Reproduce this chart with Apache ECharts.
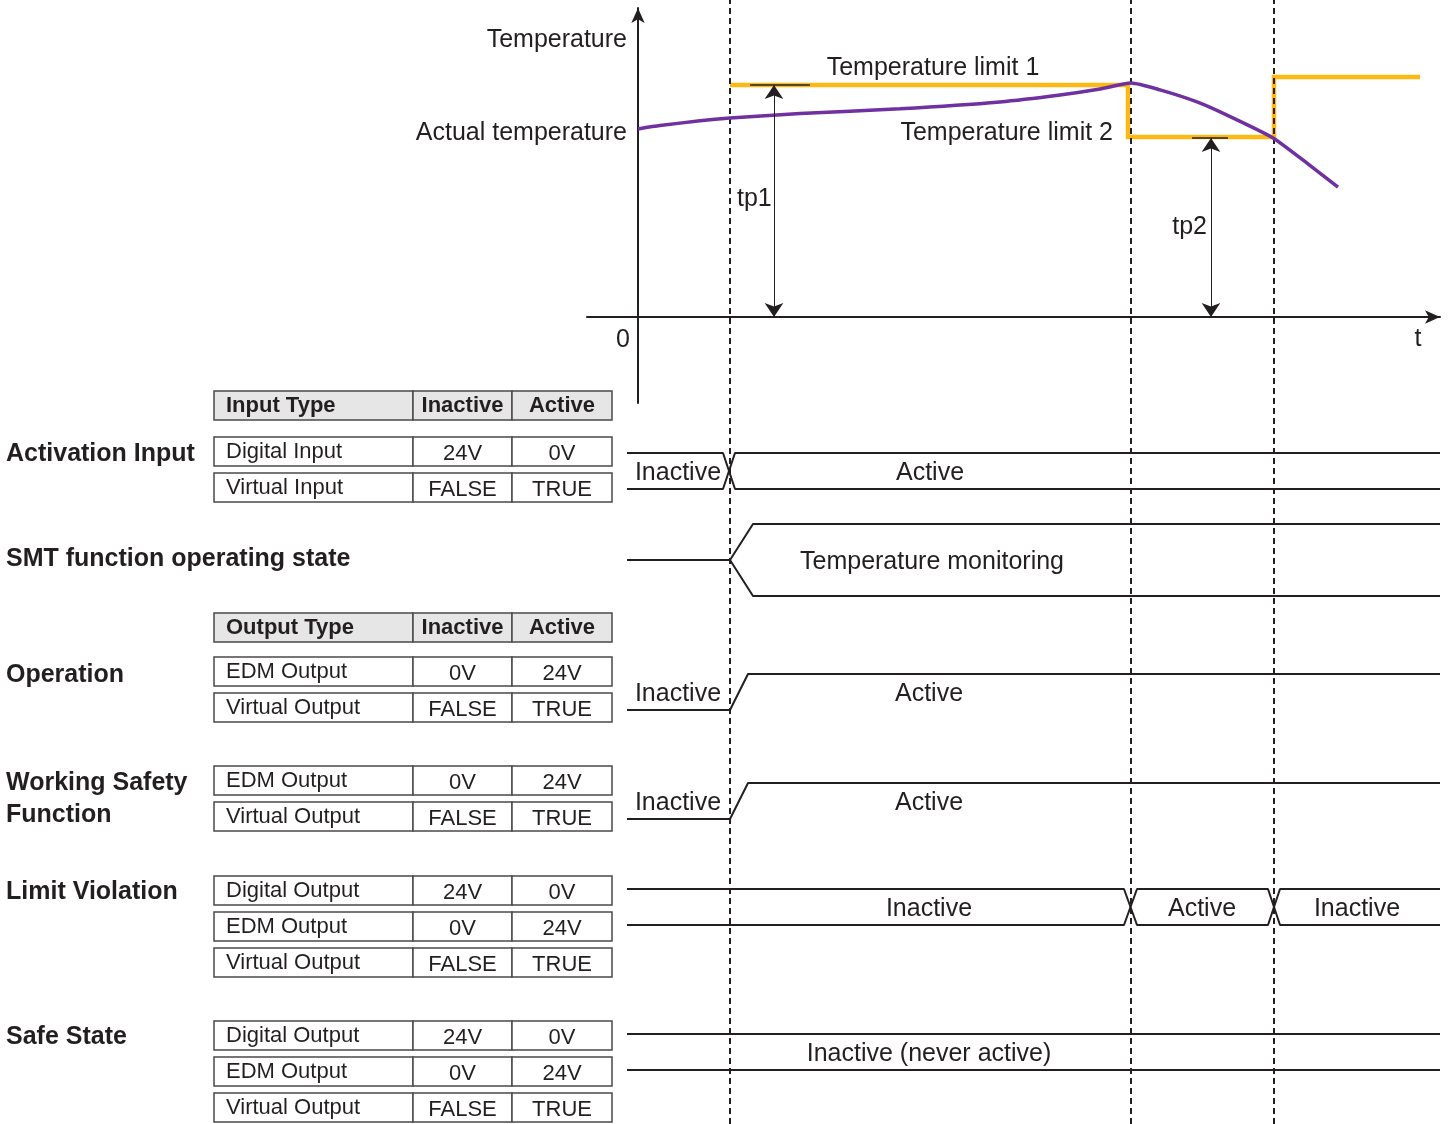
<!DOCTYPE html>
<html>
<head>
<meta charset="utf-8">
<script src="https://cdn.jsdelivr.net/npm/echarts@6/dist/echarts.min.js"></script>
<style>html,body{margin:0;padding:0;background:#fff}#c{width:1453px;height:1124px}</style>
</head>
<body>
<div id="c"></div>
<script>
// ---------- DATA ----------
const tStart = -1.1, tEnd = 80.2;            // time extent of signal lanes
const eventTimes = [9.2, 49.3, 63.6];        // dashed event lines
// temperature curve [t, temp]
const actualTemp = [[0,62.7],[2.2,63.8],[6.2,65.4],[9.2,66.3],[16.2,67.8],[26.2,69.4],[36.2,71.7],[42.2,74],[46.2,76],[49.3,78],[52.2,75.7],[55.9,71.7],[58.9,67.3],[63.5,59.7],[66.9,51.3],[70.0,43.3]];
// temperature limit step [t, temp]
const tempLimit = [[9.2,77.3],[49.0,77.3],[49.0,60],[63.6,60],[63.6,80],[78.2,80]];
const tp1 = {t:13.6, temp:77.3, tick:[11.2,17.2]};
const tp2 = {t:57.3, temp:59.7, tick:[55.4,59.0]};
// signal lanes [t, level]
const actInA = [[tStart,1],[8.5,1],[9.7,0],[tEnd,0]];
const actInB = [[tStart,0],[8.5,0],[9.7,1],[tEnd,1]];
const smtA = [[tStart,0.5],[9.2,0.5],[11.5,1],[tEnd,1]];
const smtB = [[9.2,0.5],[11.5,0],[tEnd,0]];
const opSig = [[tStart,0],[9.2,0],[11.0,1],[tEnd,1]];
const wsfSig = [[tStart,0],[9.2,0],[11.0,1],[tEnd,1]];
const lvA = [[tStart,1],[48.6,1],[49.9,0],[63.0,0],[64.2,1],[tEnd,1]];
const lvB = [[tStart,0],[48.6,0],[49.9,1],[63.0,1],[64.2,0],[tEnd,0]];
const ssA = [[tStart,1],[tEnd,1]];
const ssB = [[tStart,0],[tEnd,0]];
// state labels [t, text]
const actLabels = [[4.0,'Inactive'],[29.2,'Active']];
const smtLabels = [[29.4,'Temperature monitoring']];
const opLabels = [[4.0,'Inactive'],[29.1,'Active']];
const wsfLabels = [[4.0,'Inactive'],[29.1,'Active']];
const lvLabels = [[29.1,'Inactive'],[56.4,'Active'],[71.9,'Inactive']];
const ssLabels = [[29.1,'Inactive (never active)']];
// tables
const inputHeader = ['Input Type','Inactive','Active'];
const outputHeader = ['Output Type','Inactive','Active'];
const activationRows = [['Digital Input','24V','0V'],['Virtual Input','FALSE','TRUE']];
const operationRows = [['EDM Output','0V','24V'],['Virtual Output','FALSE','TRUE']];
const wsfRows = [['EDM Output','0V','24V'],['Virtual Output','FALSE','TRUE']];
const lvRows = [['Digital Output','24V','0V'],['EDM Output','0V','24V'],['Virtual Output','FALSE','TRUE']];
const ssRows = [['Digital Output','24V','0V'],['EDM Output','0V','24V'],['Virtual Output','FALSE','TRUE']];
const groupLabels = ['Activation Input','SMT function operating state','Operation','Working Safety\nFunction','Limit Violation','Safe State'];

// ---------- LAYOUT ----------
const FONT = '"Liberation Sans", Arial, Helvetica, sans-serif';
const TXT = '#231F20';
const PURPLE = '#7030A0';
const ORANGE = '#FDB913';
const GL = 587, GW = 853, XMIN = -5.1, XMAX = 80.2;
const lanes = [
  {top:453,h:36},{top:524,h:72},{top:674,h:36},{top:783,h:36},{top:889,h:36},{top:1034,h:36}
];

const grids = [
  {left:GL, width:GW, top:8, height:395},   // 0 temperature
  {left:GL, width:GW, top:0, height:1124}   // 1 dashed event lines
];
lanes.forEach(l => grids.push({left:GL, width:GW, top:l.top, height:l.h}));

const xAxes = grids.map((g,i) => ({
  type:'value', gridIndex:i, min:XMIN, max:XMAX, show: i===0,
  axisLine:{show:true, onZero:true, symbol:['none','arrow'], symbolSize:[10,15], lineStyle:{color:TXT, width:2}},
  axisTick:{show:false}, axisLabel:{show:false}, splitLine:{show:false}
}));
const yAxes = grids.map((g,i) => i===0 ? ({
  type:'value', gridIndex:0, min:-28.667, max:103, show:true,
  axisLine:{show:true, onZero:true, symbol:['none','arrow'], symbolSize:[10,15], lineStyle:{color:TXT, width:2}},
  axisTick:{show:false}, axisLabel:{show:false}, splitLine:{show:false}
}) : ({type:'value', gridIndex:i, min:0, max:1, show:false}));

const series = [];
function sig(data, gi, w) {
  series.push({type:'line', xAxisIndex:gi, yAxisIndex:gi, data, symbol:'none', silent:true,
    lineStyle:{color:TXT, width:w||2}, z:3});
}
function labels(arr, gi) {
  series.push({type:'scatter', xAxisIndex:gi, yAxisIndex:gi, symbolSize:0, silent:true,
    itemStyle:{opacity:1},
    data: arr.map(a => ({value:[a[0],0.5], name:a[1]})),
    label:{show:true, position:'inside', offset:[0,2], formatter:'{b}', color:TXT, opacity:1,
      fontSize:25, fontFamily:FONT, textBorderWidth:0}});
}
// event dashed lines
series.push({type:'line', xAxisIndex:1, yAxisIndex:1, data:[], z:10,
  markLine:{silent:true, symbol:['none','none'], label:{show:false},
    lineStyle:{color:TXT, width:2, type:[6,4], opacity:1},
    data: eventTimes.map(t => ({xAxis:t}))}});
// temperature
series.push({type:'line', xAxisIndex:0, yAxisIndex:0, data:tempLimit, symbol:'none', silent:true,
  lineStyle:{color:ORANGE, width:4.5, cap:'butt', join:'miter'}, z:4});
series.push({type:'line', xAxisIndex:0, yAxisIndex:0, data:actualTemp, symbol:'none', silent:true, smooth:0.2,
  lineStyle:{color:PURPLE, width:3.5}, z:5});
// tp arrows and ticks
series.push({type:'lines', coordinateSystem:'cartesian2d', xAxisIndex:0, yAxisIndex:0, silent:true, z:6,
  symbol:['arrow','arrow'], symbolSize:14,
  lineStyle:{color:TXT, width:1, opacity:1},
  data:[{coords:[[tp1.t,0],[tp1.t,tp1.temp]]},{coords:[[tp2.t,0],[tp2.t,tp2.temp]]}]});
series.push({type:'lines', coordinateSystem:'cartesian2d', xAxisIndex:0, yAxisIndex:0, silent:true, z:6,
  symbol:['none','none'], lineStyle:{color:TXT, width:1.5, opacity:1},
  data:[{coords:[[tp1.tick[0],tp1.temp],[tp1.tick[1],tp1.temp]]},{coords:[[tp2.tick[0],tp2.temp],[tp2.tick[1],tp2.temp]]}]});
// lanes
sig(actInA,2); sig(actInB,2); labels(actLabels,2);
sig(smtA,3); sig(smtB,3); labels(smtLabels,3);
sig(opSig,4); labels(opLabels,4);
sig(wsfSig,5); labels(wsfLabels,5);
sig(lvA,6); sig(lvB,6); labels(lvLabels,6);
sig(ssA,7); sig(ssB,7); labels(ssLabels,7);

// ---------- GRAPHIC (texts & tables) ----------
const graphic = [];
function text(str, x, y, opts) {
  opts = opts || {};
  graphic.push({type:'text', x, y, z:20, silent:true, style:{
    text:str, fill:TXT, font:(opts.bold?'bold ':'')+(opts.size||25)+'px '+FONT,
    textAlign:opts.align||'left', textVerticalAlign:'middle', align:opts.align||'left', verticalAlign:'middle', lineHeight:opts.lh||32}});
}
const colX = [214, 413, 512, 612];
const ROWH = 29, PITCH = 36;
function table(top, rows, header) {
  rows.forEach((r, ri) => {
    const y = top + ri*PITCH;
    for (let c = 0; c < 3; c++) {
      graphic.push({type:'rect', z:15, silent:true,
        shape:{x:colX[c], y, width:colX[c+1]-colX[c], height:ROWH},
        style:{fill: header ? '#E6E6E6' : '#fff', stroke:'#4A4A4A', lineWidth:1.5}});
      const cx = c === 0 ? colX[0] + 12 : (colX[c] + colX[c+1]) / 2;
      text(r[c], cx, y + ROWH/2 + (header ? 0 : (c === 0 ? 0 : 2)), {size:22, bold:header, align: c===0 ? 'left' : 'center'});
    }
  });
}
table(391, [inputHeader], true);
table(437, activationRows);
table(613, [outputHeader], true);
table(657, operationRows);
table(766, wsfRows);
table(876, lvRows);
table(1021, ssRows);

const labelY = [454, 559, 675, 799, 892, 1037];
groupLabels.forEach((s, i) => text(s, 6, labelY[i], {bold:true, size:25, lh:32}));

text('Temperature', 627, 40, {align:'right'});
text('Actual temperature', 627, 133, {align:'right'});
text('Temperature limit 1', 933, 68, {align:'center'});
text('Temperature limit 2', 1113, 133, {align:'right'});
text('tp1', 737, 199);
text('tp2', 1207, 227, {align:'right'});
text('0', 623, 340, {align:'center'});
text('t', 1418, 339, {align:'center'});

const chart = echarts.init(document.getElementById('c'), null, {renderer:'canvas'});
chart.setOption({
  animation:false,
  backgroundColor:'#fff',
  grid:grids, xAxis:xAxes, yAxis:yAxes, series, graphic
});
</script>
</body>
</html>
